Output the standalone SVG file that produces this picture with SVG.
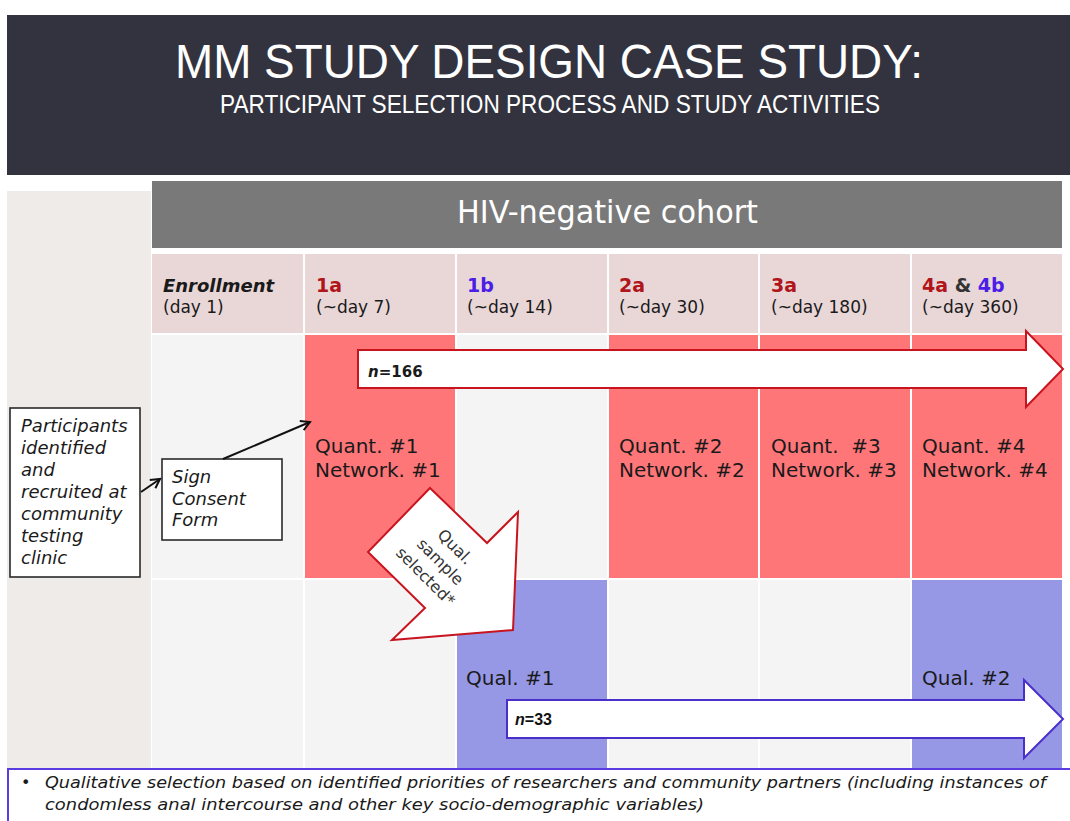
<svg xmlns="http://www.w3.org/2000/svg" width="1070" height="821" viewBox="0 0 1070 821">
<style>
.t{font-family:"DejaVu Sans",sans-serif;fill:#1a1a1a}
.hdr{fill:#e9d6d7}
.red{fill:#ff7679}
.blu{fill:#9698e6}
.gry{fill:#f4f4f4}
.box{fill:#ffffff;stroke:#2a2a2a;stroke-width:1.6}
.lab{font-size:19px;font-weight:bold}
.day{font-size:17px}
.cell{font-size:20px}
.it{font-style:italic;font-size:18px}
.conn{stroke:#111;stroke-width:2;fill:none}
</style>
<defs>
<marker id="ah" viewBox="0 0 12 12" refX="10" refY="6" markerWidth="12" markerHeight="12" markerUnits="userSpaceOnUse" orient="auto">
<path d="M1,1 L10,6 L1,11" fill="none" stroke="#111" stroke-width="2"/>
</marker>
</defs>
<rect width="1070" height="821" fill="#ffffff"/>
<g id="title">
<rect x="7" y="15" width="1063" height="160" fill="#32333f"/>
<text x="175" y="78" font-family="Liberation Sans,Arial,sans-serif" font-size="49" fill="#ffffff" textLength="748" lengthAdjust="spacingAndGlyphs">MM STUDY DESIGN CASE STUDY:</text>
<text x="220" y="113" font-family="Liberation Sans,Arial,sans-serif" font-size="25" fill="#ffffff" textLength="660" lengthAdjust="spacingAndGlyphs">PARTICIPANT SELECTION PROCESS AND STUDY ACTIVITIES</text>
</g>
<rect x="7" y="191" width="144" height="578" fill="#efebe9"/>
<g id="cohort">
<rect x="152" y="181" width="910" height="67" fill="#797979"/>
<text x="457" y="223" class="t" font-size="32" fill="#ffffff" style="fill:#ffffff" textLength="301" lengthAdjust="spacingAndGlyphs">HIV-negative cohort</text>
</g>
<g id="headers">
<rect class="hdr" x="152" y="254" width="151" height="79"/>
<rect class="hdr" x="305" y="254" width="150" height="79"/>
<rect class="hdr" x="457" y="254" width="150" height="79"/>
<rect class="hdr" x="609" y="254" width="149" height="79"/>
<rect class="hdr" x="760" y="254" width="150" height="79"/>
<rect class="hdr" x="912" y="254" width="150" height="79"/>
<text x="163" y="292" class="t" font-size="18" font-weight="bold" font-style="italic">Enrollment</text>
<text x="163" y="313" class="t day">(day 1)</text>
<text x="316" y="292" class="t lab" style="fill:#b0151b">1a</text>
<text x="316" y="313" class="t day">(~day 7)</text>
<text x="467" y="292" class="t lab" style="fill:#4a1ee6">1b</text>
<text x="467" y="313" class="t day">(~day 14)</text>
<text x="619" y="292" class="t lab" style="fill:#b0151b">2a</text>
<text x="619" y="313" class="t day">(~day 30)</text>
<text x="771" y="292" class="t lab" style="fill:#b0151b">3a</text>
<text x="771" y="313" class="t day">(~day 180)</text>
<text x="922" y="292" class="t lab"><tspan style="fill:#b0151b">4a</tspan><tspan style="fill:#333333"> &amp; </tspan><tspan style="fill:#4a1ee6">4b</tspan></text>
<text x="922" y="313" class="t day">(~day 360)</text>
</g>
<g id="row1">
<rect class="gry" x="152" y="335" width="151" height="243"/>
<rect class="red" x="305" y="335" width="150" height="243"/>
<rect class="gry" x="457" y="335" width="150" height="243"/>
<rect class="red" x="609" y="335" width="149" height="243"/>
<rect class="red" x="760" y="335" width="150" height="243"/>
<rect class="red" x="912" y="335" width="150" height="243"/>
</g>
<g id="row2">
<rect class="gry" x="152" y="580" width="151" height="189"/>
<rect class="gry" x="305" y="580" width="150" height="189"/>
<rect class="blu" x="457" y="580" width="150" height="189"/>
<rect class="gry" x="609" y="580" width="149" height="189"/>
<rect class="gry" x="760" y="580" width="150" height="189"/>
<rect class="blu" x="912" y="580" width="150" height="189"/>
</g>
<g id="q1"><text x="315" y="453" class="t cell">Quant. #1</text><text x="315" y="477" class="t cell">Network. #1</text></g>
<g id="q2"><text x="619" y="453" class="t cell">Quant. #2</text><text x="619" y="477" class="t cell">Network. #2</text></g>
<g id="q3"><text x="771" y="453" class="t cell" xml:space="preserve">Quant.  #3</text><text x="771" y="477" class="t cell">Network. #3</text></g>
<g id="q4"><text x="922" y="453" class="t cell">Quant. #4</text><text x="922" y="477" class="t cell">Network. #4</text></g>
<g id="qual1"><text x="466" y="685" class="t cell">Qual. #1</text></g>
<g id="qual2"><text x="922" y="685" class="t cell">Qual. #2</text></g>
<g id="n166">
<path d="M358,350 L1026,350 L1026,331 L1063,369 L1026,407 L1026,388 L358,388 Z" fill="#ffffff" stroke="#c8141e" stroke-width="2"/>
<text x="368" y="377" class="t" font-size="15" font-weight="bold"><tspan font-style="italic">n</tspan>=166</text>
</g>
<g id="n33">
<path d="M507,700 L1024,700 L1024,680 L1063,719 L1024,758 L1024,738 L507,738 Z" fill="#ffffff" stroke="#4b2fc9" stroke-width="2"/>
<text x="515" y="725" font-family="Liberation Sans,Arial,sans-serif" font-size="16" font-weight="bold" fill="#111"><tspan font-style="italic">n</tspan>=33</text>
</g>
<g id="qualsel">
<polygon points="430,488 487,543 518,512 513,630 392,640 425,608 368,552" fill="#ffffff" stroke="#c8141e" stroke-width="2"/>
<g transform="translate(440,562) rotate(45)" class="t" font-size="16" style="fill:#333" text-anchor="middle">
<text y="-16" class="t" style="fill:#333">Qual.</text>
<text y="5" class="t" style="fill:#333">sample</text>
<text y="26" class="t" style="fill:#333">selected*</text>
</g>
</g>
<g id="participants">
<rect class="box" x="10" y="408" width="130" height="169"/>
<text class="t it" x="21" y="432">Participants</text>
<text class="t it" x="21" y="454">identified</text>
<text class="t it" x="21" y="476">and</text>
<text class="t it" x="21" y="498">recruited at</text>
<text class="t it" x="21" y="520">community</text>
<text class="t it" x="21" y="542">testing</text>
<text class="t it" x="21" y="564">clinic</text>
</g>
<g id="consent">
<rect class="box" x="162" y="459" width="120" height="81"/>
<text class="t it" x="172" y="483">Sign</text>
<text class="t it" x="172" y="505">Consent</text>
<text class="t it" x="172" y="526">Form</text>
</g>
<g id="connectors">
<line class="conn" x1="141" y1="492" x2="160" y2="479" marker-end="url(#ah)"/>
<line class="conn" x1="223" y1="459" x2="310" y2="422" marker-end="url(#ah)"/>
</g>
<g id="footnote">
<rect x="8" y="769" width="1070" height="70" fill="#ffffff" stroke="#5b3ce0" stroke-width="2"/>
<text x="21" y="788" class="t" font-size="16">•</text>
<text x="45" y="788" class="t" font-size="16.5" font-style="italic" textLength="1001" lengthAdjust="spacingAndGlyphs">Qualitative selection based on identified priorities of researchers and community partners (including instances of</text>
<text x="45" y="810" class="t" font-size="16.5" font-style="italic" textLength="659" lengthAdjust="spacingAndGlyphs">condomless anal intercourse and other key socio-demographic variables)</text>
</g>
</svg>
